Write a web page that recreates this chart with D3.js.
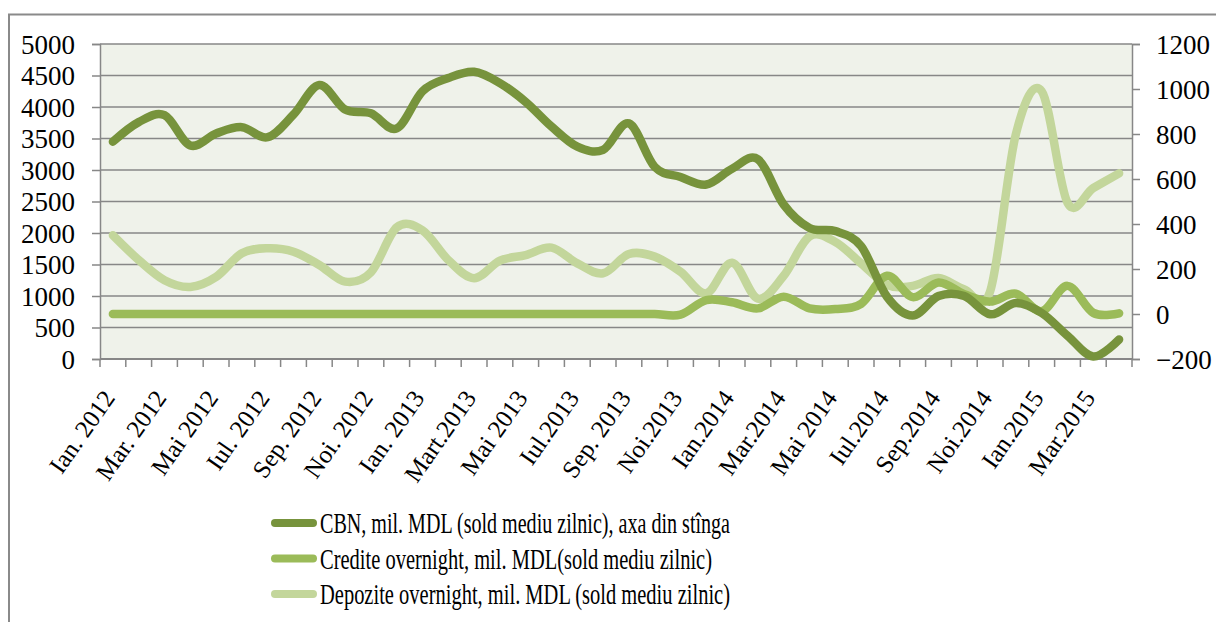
<!DOCTYPE html>
<html>
<head>
<meta charset="utf-8">
<script src="https://cdn.jsdelivr.net/npm/d3@7"></script>
<style>
  body { margin: 0; background: #fff; }
  svg text { font-family: "Liberation Serif", "DejaVu Serif", serif; fill: #000; }
</style>
</head>
<body>
<svg id="canvas" width="1216" height="622"></svg>
<script>
// months Jan 2012 .. Apr 2015 (labels shown every second month)
let months = [
  'Ian. 2012', 'Feb. 2012', 'Mar. 2012', 'Apr. 2012', 'Mai 2012', 'Iun. 2012',
  'Iul. 2012', 'Aug. 2012', 'Sep. 2012', 'Oct. 2012', 'Noi. 2012', 'Dec. 2012',
  'Ian. 2013', 'Feb. 2013', 'Mart.2013', 'Apr. 2013', 'Mai 2013', 'Iun.2013',
  'Iul.2013', 'Aug.2013', 'Sep. 2013', 'Oct.2013', 'Noi.2013', 'Dec.2013',
  'Ian.2014', 'Feb.2014', 'Mar.2014', 'Apr.2014', 'Mai 2014', 'Iun.2014',
  'Iul.2014', 'Aug.2014', 'Sep.2014', 'Oct.2014', 'Noi.2014', 'Dec.2014',
  'Ian.2015', 'Feb.2015', 'Mar.2015', 'Apr.2015'
]

// CBN, left axis
let cbn = [
  3450, 3760, 3870, 3390, 3580, 3680, 3520, 3880, 4350, 3960,
  3900, 3660, 4250, 4460, 4560, 4380, 4080, 3690, 3370, 3320,
  3740, 3050, 2890, 2770, 3020, 3170, 2450, 2080, 2030, 1790,
  990, 690, 1000, 1000, 710, 890, 730, 370, 40, 310
]

// Credite overnight, right axis
let credite = [
  0, 0, 0, 0, 0, 0, 0, 0, 0, 0,
  0, 0, 0, 0, 0, 0, 0, 0, 0, 0,
  0, 0, -3, 62, 52, 25, 77, 25, 22, 45,
  170, 75, 140, 88, 55, 90, 12, 125, 5, 3
]

// Depozite overnight, right axis
let depozite = [
  350, 240, 150, 120, 165, 270, 292, 277, 218, 144,
  185, 385, 372, 240, 159, 237, 262, 295, 225, 181,
  267, 255, 188, 92, 228, 68, 170, 345, 320, 225,
  130, 125, 160, 110, 100, 800, 990, 495, 560, 625
]

let leftTicks = d3.range(0, 5001, 500)
let rightTicks = d3.range(-200, 1201, 200)

let legendNames = [
  'CBN, mil. MDL (sold mediu zilnic), axa din stînga',
  'Credite overnight, mil. MDL(sold mediu zilnic)',
  'Depozite overnight, mil. MDL (sold mediu zilnic)'
]
let colors = ['#77933c', '#9bbb59', '#c3d69b']

let canvas = d3.select('#canvas')

let plotLeft = 100, plotRight = 1132, plotTop = 44, plotBottom = 359

let x = d3.scaleBand().domain(months).range([plotLeft, plotRight])
let yLeft = d3.scaleLinear().domain([0, 5000]).range([plotBottom, plotTop])
let yRight = d3.scaleLinear().domain([-200, 1200]).range([plotBottom, plotTop])
let cx = (m) => x(m) + x.bandwidth() / 2

// outer frame
canvas.append('rect')
  .attr('x', 9).attr('y', 14.5)
  .attr('width', 1400).attr('height', 800)
  .attr('fill', 'none')
  .attr('stroke', '#8a8a8a')
  .attr('stroke-width', 2)

// plot background
canvas.append('rect')
  .attr('x', plotLeft).attr('y', plotTop)
  .attr('width', plotRight - plotLeft).attr('height', plotBottom - plotTop)
  .attr('fill', '#eff2ea')

// gridlines
canvas.append('g')
  .selectAll('line')
  .data(leftTicks)
  .enter()
  .append('line')
  .attr('x1', plotLeft).attr('x2', plotRight)
  .attr('y1', (d) => yLeft(d)).attr('y2', (d) => yLeft(d))
  .attr('stroke', '#878787')
  .attr('stroke-width', 1.5)

// left axis
let axisL = canvas.append('g')
  .attr('transform', 'translate(' + plotLeft + ',0)')
  .call(d3.axisLeft(yLeft).tickValues(leftTicks).tickFormat(d3.format('d')).tickSize(8).tickPadding(17))
axisL.selectAll('line, path').attr('stroke', '#878787').attr('stroke-width', 1.5)
axisL.selectAll('text').attr('font-size', 27).attr('font-family', 'Liberation Serif').attr('dy', '0.34em')

// right axis
let axisR = canvas.append('g')
  .attr('transform', 'translate(' + plotRight + ',0)')
  .call(d3.axisRight(yRight).tickValues(rightTicks).tickFormat(d3.format('d')).tickSize(8).tickPadding(16))
axisR.selectAll('line, path').attr('stroke', '#878787').attr('stroke-width', 1.5)
axisR.selectAll('text').attr('font-size', 27).attr('font-family', 'Liberation Serif').attr('dy', '0.34em')

// bottom axis line and category ticks
canvas.append('line')
  .attr('x1', plotLeft).attr('x2', plotRight)
  .attr('y1', plotBottom).attr('y2', plotBottom)
  .attr('stroke', '#878787').attr('stroke-width', 2)

let boundaries = months.map((m) => x(m)).concat([x(months[months.length - 1]) + x.bandwidth()])
canvas.append('g')
  .selectAll('line')
  .data(boundaries)
  .enter()
  .append('line')
  .attr('x1', (d) => d).attr('x2', (d) => d)
  .attr('y1', plotBottom).attr('y2', plotBottom + 8)
  .attr('stroke', '#878787').attr('stroke-width', 1.5)

// month labels (every second month)
canvas.append('g')
  .selectAll('text')
  .data(months.filter((m, i) => i % 2 === 0))
  .enter()
  .append('text')
  .attr('transform', (m) => 'translate(' + (cx(m) + 3) + ',' + 398 + ') rotate(-55)')
  .attr('text-anchor', 'end')
  .attr('font-size', 25)
  .text((m) => m)

// lines
let lineLeft = d3.line()
  .x((d, i) => cx(months[i]))
  .y((d) => yLeft(d))
  .curve(d3.curveCardinal.tension(0))

let lineRight = d3.line()
  .x((d, i) => cx(months[i]))
  .y((d) => yRight(d))
  .curve(d3.curveCardinal.tension(0))

let series = [
  { values: cbn, line: lineLeft, color: colors[0] },
  { values: credite, line: lineRight, color: colors[1] },
  { values: depozite, line: lineRight, color: colors[2] }
]

// drawing order: depozite under the others
;[series[2], series[1], series[0]].forEach((s) => {
  canvas.append('path')
    .attr('d', s.line(s.values))
    .attr('fill', 'none')
    .attr('stroke', s.color)
    .attr('stroke-width', 8.5)
    .attr('stroke-linecap', 'round')
    .attr('stroke-linejoin', 'round')
})

// legend
let legendLengths = [410, 392, 410]
let legend = canvas.append('g')
  .selectAll('g')
  .data(legendNames)
  .enter()
  .append('g')
  .attr('transform', (d, i) => 'translate(275,' + (523 + i * 35.5) + ')')

legend.append('line')
  .attr('x1', 0).attr('x2', 38)
  .attr('y1', 0).attr('y2', 0)
  .attr('stroke', (d, i) => colors[i])
  .attr('stroke-width', 8)
  .attr('stroke-linecap', 'round')

legend.append('text')
  .attr('x', 45)
  .attr('y', 10)
  .attr('font-size', 29)
  .attr('textLength', (d, i) => legendLengths[i])
  .attr('lengthAdjust', 'spacingAndGlyphs')
  .text((d) => d)
</script>
</body>
</html>
